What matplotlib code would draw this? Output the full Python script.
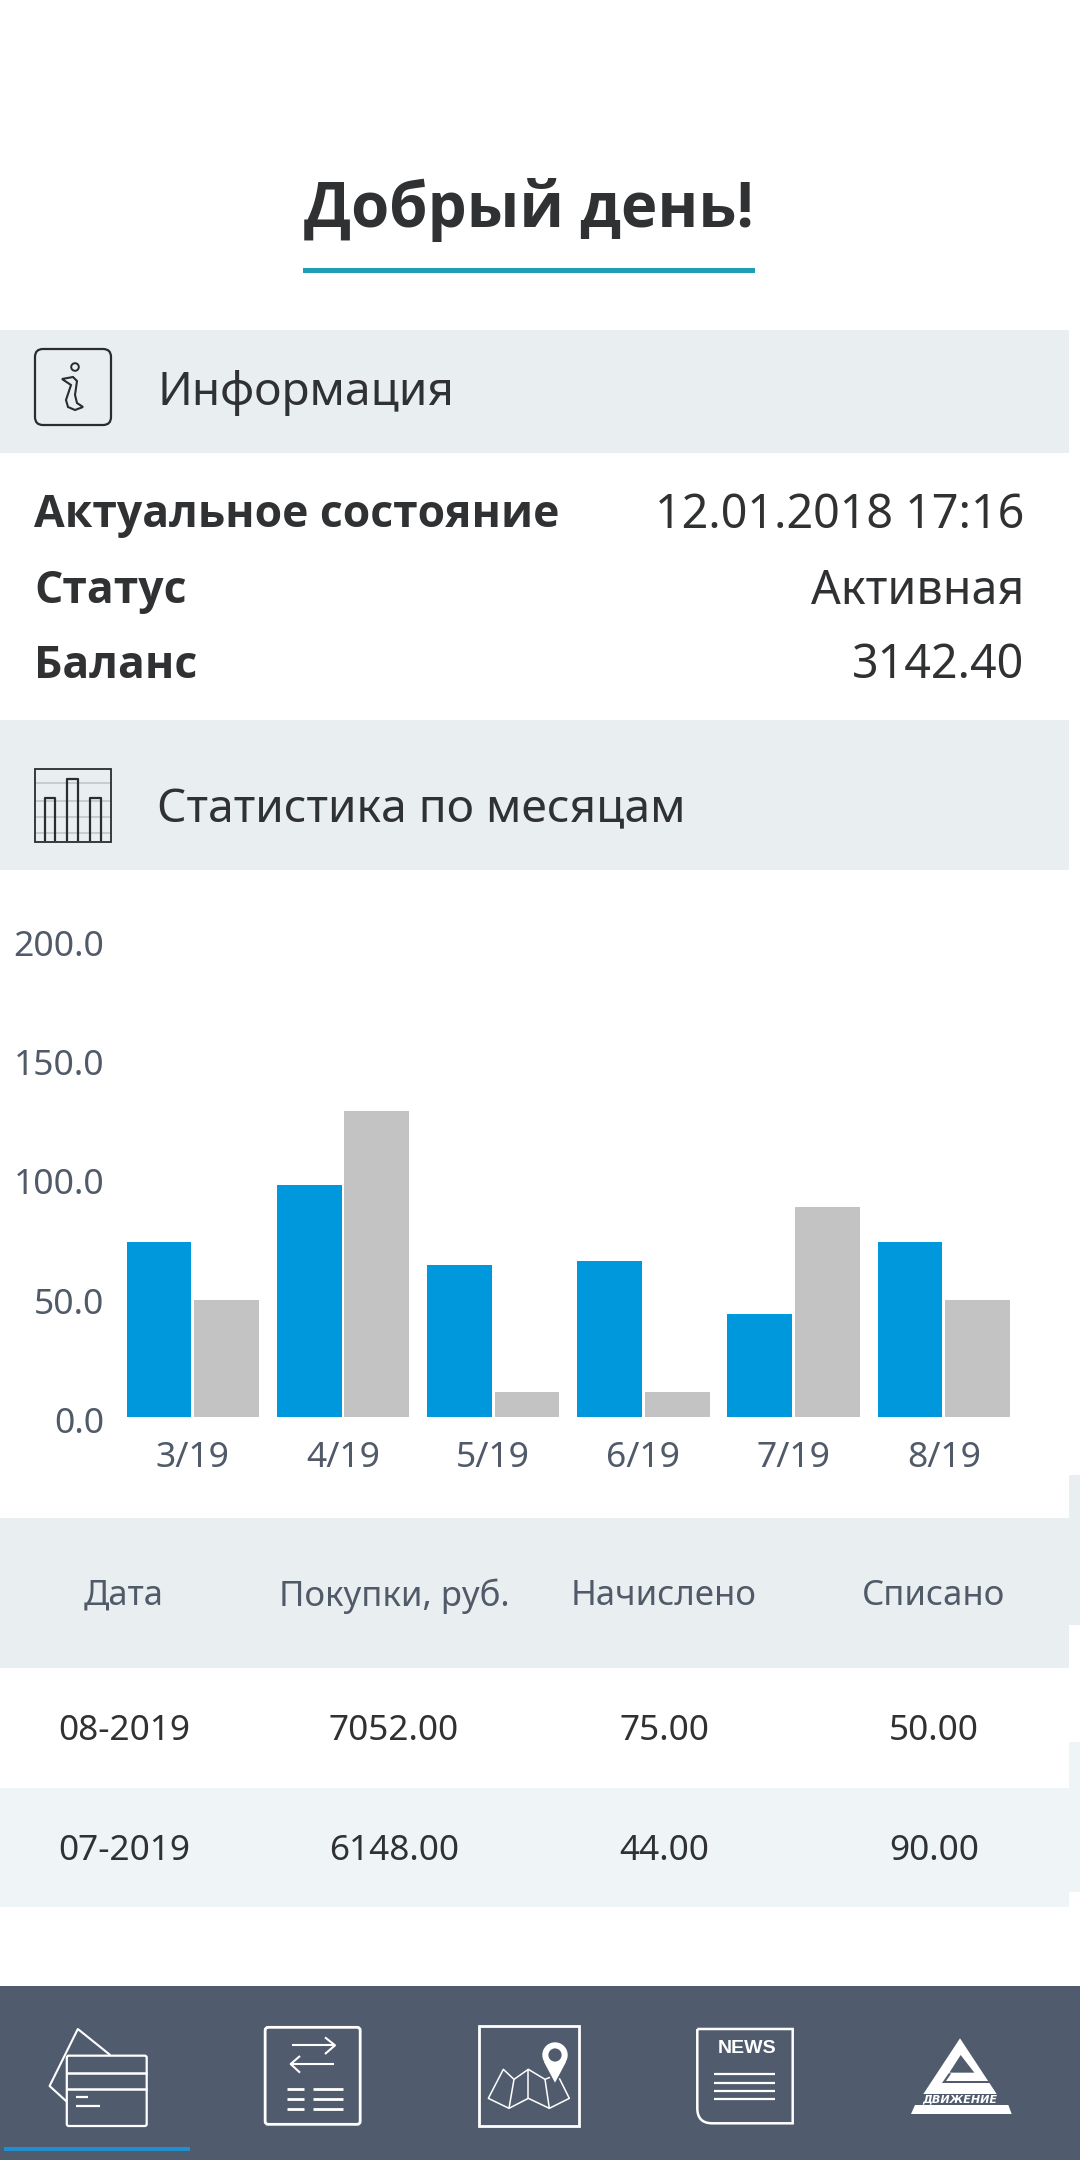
import matplotlib
matplotlib.use('Agg')
import matplotlib.pyplot as plt
from matplotlib.patches import Rectangle, Polygon, Circle, FancyBboxPatch, PathPatch
from matplotlib.path import Path

W, H = 1080, 2160
months = ['3/19', '4/19', '5/19', '6/19', '7/19', '8/19']
accrued = [75, 99.5, 65, 67, 44, 75]
spent = [50, 131, 11, 11, 90, 50]
y_ticks = [0, 50, 100, 150, 200]
y_labels = ['0.0', '50.0', '100.0', '150.0', '200.0']
table_header = ['Дата', 'Покупки, руб.', 'Начислено', 'Списано']
table_rows = [['08-2019', '7052.00', '75.00', '50.00'],
              ['07-2019', '6148.00', '44.00', '90.00']]
info_rows = [('Актуальное состояние', '12.01.2018 17:16'),
             ('Статус', 'Активная'),
             ('Баланс', '3142.40')]

FONT = 'Noto Sans'
BOLD = 'Open Sans'
plt.rcParams['font.family'] = [FONT, 'DejaVu Sans']
BAND = '#e9eef1'
BAR = '#505c6e'
DARK = '#2f3133'
GREY = '#505a68'
ICON = '#2a2c2e'

fig = plt.figure(figsize=(W / 100, H / 100), dpi=100, facecolor='white')
bg = fig.add_axes([0, 0, 1, 1])
bg.set_xlim(0, W)
bg.set_ylim(H, 0)
bg.axis('off')


def rect(x0, y0, x1, y1, c, **kw):
    bg.add_patch(Rectangle((x0, y0), x1 - x0, y1 - y0, fc=c, ec='none', **kw))


def line(pts, c='white', lw=1.5, **kw):
    bg.plot([p[0] for p in pts], [p[1] for p in pts], color=c, lw=lw,
            solid_capstyle='butt', solid_joinstyle='round', **kw)


def t(x, y, s, size, color=DARK, ha='left', **kw):
    bg.text(x, y, s, fontsize=size, color=color, ha=ha, va='center', **kw)


def tb(x, y, s, size, color=DARK, ha='left'):
    bg.text(x, y, s, fontsize=size, color=color, ha=ha, va='center',
            family=BOLD, fontweight='bold')


# bands
rect(0, 330, 1069, 453, BAND)
rect(0, 720, 1069, 870, BAND)
rect(1069, 1475, 1080, 1625, BAND)
rect(0, 1518, 1069, 1668, BAND)
rect(1069, 1742, 1080, 1892, '#eff4f7')
rect(0, 1788, 1069, 1907, '#eff4f7')
rect(0, 1986, W, H, BAR)
rect(3.5, 2147, 190, 2151, '#1f8fd0')

# title
tb(529, 210, 'Добрый день!', 44.5, ha='center')
rect(303, 268, 755, 272.5, '#1f9db5')

# headers
t(157, 393, 'Информация', 33.2)
t(157, 810, 'Статистика по месяцам', 33.2)
for (a, b), y in zip(info_rows, [516, 591, 666]):
    tb(34, y, a, 32)
    t(1024, y, b, 33.6, ha='right')

# info icon
bg.add_patch(FancyBboxPatch((35, 349), 76, 76, boxstyle='round,pad=0,rounding_size=8',
                            fc='none', ec=ICON, lw=1.6))
bg.add_patch(Circle((75, 367), 3.8, fc='none', ec=ICON, lw=1.4))
bg.add_patch(Polygon([(62, 379), (73, 377), (77, 381), (75, 395), (77, 403), (83, 407),
                      (75, 410), (68, 407), (66, 400), (71, 385)], closed=True,
                     fc='none', ec=ICON, lw=1.5))

# chart icon
for yy in (783.3, 800.7, 817.3, 832.7):
    line([(36, yy), (110, yy)], '#c2c6c8', 1.2)
bg.add_patch(Rectangle((35, 769), 75.7, 72.7, fc='none', ec=ICON, lw=1.3))
for x0, x1, top in ((45, 55, 798.3), (67.3, 78.3, 779), (90, 101, 798.3)):
    line([(x0, 841), (x0, top), (x1, top), (x1, 841)], ICON, 1.6)

# chart
BASE, TOP = 1417.4, 949.4
ax = fig.add_axes([117.7 / W, 1 - BASE / H, 901.2 / W, (BASE - TOP) / H])
ax.patch.set_alpha(0)
ax.set_xlim(-0.5, 5.5)
ax.set_ylim(0, 200)
xs = range(len(months))
ax.bar([i - 0.225 for i in xs], accrued, width=0.431, color='#0098dc')
ax.bar([i + 0.225 for i in xs], spent, width=0.431, color='#c3c3c3')
for s in ax.spines.values():
    s.set_visible(False)
ax.set_xticks(list(xs), months)
ax.set_yticks([])
ax.tick_params(axis='x', length=0, pad=17, labelsize=25.5, labelcolor=GREY)

# tick label axis: the labels sit on their own slightly wider scale
ay = fig.add_axes([117.7 / W, 1 - 1420 / H, 901.2 / W, (1420 - 943) / H])
ay.patch.set_alpha(0)
ay.set_ylim(0, 200)
ay.set_xticks([])
ay.set_yticks(y_ticks, y_labels)
for s in ay.spines.values():
    s.set_visible(False)
ay.tick_params(axis='y', length=0, pad=9.5, labelsize=25.5, labelcolor=GREY)

# table
cols = [124, 394, 664, 934]
for x, s in zip(cols, table_header):
    t(x, 1596, s, 25, color=GREY, ha='center')
for y, row in zip([1731, 1851], table_rows):
    for x, s in zip(cols, row):
        t(x, y, s, 25.3, ha='center')


def Z(x, y):
    return (x / 1.452, 1960 + y / 3)


def Z6(x, y):
    return (30 + x / 3, 2010 + y / 3)


def Z7(x, y):
    return (460 + x / 3, 2010 + y / 3)


def Z5(x, y):
    return (880 + x / 3, 2020 + y / 3)


# card
line([Z(97, 425), Z(72, 378), Z(113, 207), Z(160, 285)], lw=1.5)
bg.add_patch(FancyBboxPatch(Z(97, 287), 116 / 1.452, 211 / 3, boxstyle='round,pad=0,rounding_size=2',
                            fc='none', ec='white', lw=1.6))
line([Z(97, 339), Z(213, 339)], lw=1.8)
line([Z(97, 387), Z(213, 387)], lw=1.8)
line([Z(110, 412), Z(128, 412)], lw=1.6)
line([Z(110, 437), Z(145, 437)], lw=1.6)

# exchange
bg.add_patch(FancyBboxPatch(Z(385, 202), 138 / 1.452, 291 / 3, boxstyle='round,pad=0,rounding_size=3',
                            fc='none', ec='white', lw=2))
line([Z6(785, 106), Z6(915, 106)])
line([Z6(885, 82), Z6(915, 106), Z6(885, 132)])
line([Z6(785, 162), Z6(912, 162)])
line([Z6(810, 138), Z6(782, 162), Z6(810, 188)])
for yy in (236, 266, 297):
    line([Z6(772, yy), Z6(822, yy)], lw=2)
    line([Z6(850, yy), Z6(940, yy)], lw=2)

# map
bg.add_patch(Rectangle((479, 2025.7), 100, 100.3, fc='none', ec='white', lw=2))
line([Z7(298, 205), Z7(328, 265), Z7(268, 295), Z7(205, 265), Z7(147, 295), Z7(85, 265),
      Z7(130, 178), Z7(162, 208), Z7(205, 178), Z7(255, 208), Z7(270, 202)], lw=1.1)
line([Z7(162, 208), Z7(147, 295)], lw=1.1)
line([Z7(205, 178), Z7(205, 265)], lw=1.1)
line([Z7(255, 208), Z7(268, 295)], lw=1.1)
bg.add_patch(Circle((555, 2055), 12.7, fc='white', ec='none', zorder=3))
bg.add_patch(Polygon([(544, 2062), (566, 2062), (555, 2082.7)], fc='white', ec='none', zorder=3))
bg.add_patch(Circle((555, 2055), 6.6, fc=BAR, ec='none', zorder=4))

# news
nx0, ny0, nx1, ny1 = 697.3, 2029, 792.7, 2123.3
news = Path([(nx0, ny0), (nx1, ny0), (nx1, ny1), (nx0 + 15, ny1), (nx0, ny1), (nx0, ny1 - 15), (nx0, ny0)],
            [Path.MOVETO, Path.LINETO, Path.LINETO, Path.LINETO, Path.CURVE3, Path.CURVE3, Path.LINETO])
bg.add_patch(PathPatch(news, fc='none', ec='white', lw=1.8))
bg.text(747, 2048.5, 'NEWS', fontsize=14, family='Liberation Sans', fontweight='bold',
        color='white', ha='center', va='center')
for yy in (343, 368, 393, 418):
    line([Z(1037, yy), Z(1125, yy)], lw=1.6)

# logo
bg.add_patch(Polygon([Z5(240, 55), Z5(350, 222), Z5(130, 222)], fc='white', ec='none'))
bg.add_patch(Polygon([Z5(242, 105), Z5(283, 158), Z5(208, 158)], fc=BAR, ec='none'))
bg.add_patch(Polygon([Z5(206, 160), Z5(214, 160), Z5(198, 183), Z5(338, 183), Z5(341, 189), Z5(186, 189)],
                     fc=BAR, ec='none'))
bg.add_patch(Polygon([Z5(105, 255), Z5(385, 255), Z5(395, 282), Z5(93, 282)], fc='white', ec='none'))
bg.text(*Z5(238, 239), 'ДВИЖЕНИЕ', fontsize=8, family='DejaVu Sans', fontweight='bold', fontstyle='italic',
        color='white', ha='center', va='center')

fig.savefig('out.png', dpi=100, facecolor='white')
